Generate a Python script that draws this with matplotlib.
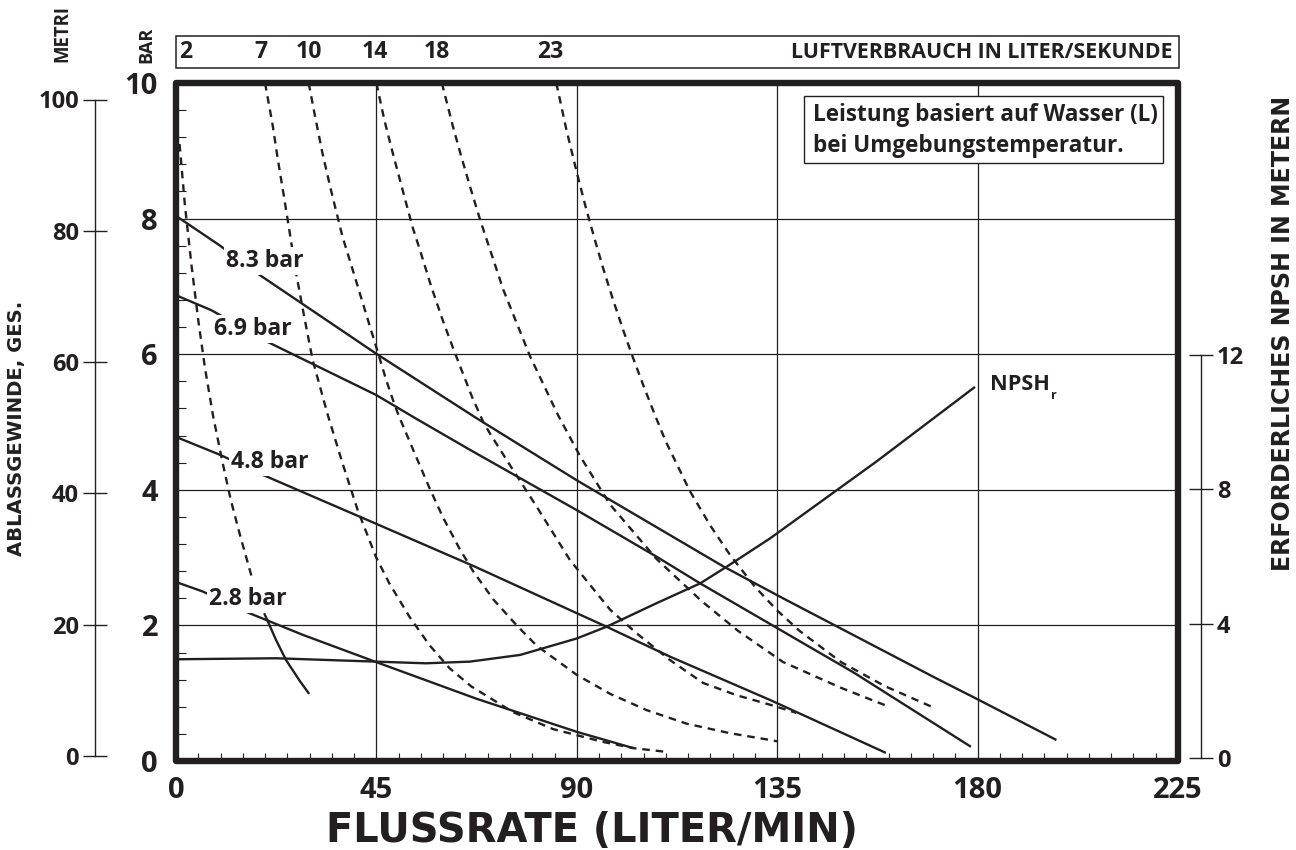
import matplotlib
matplotlib.use("Agg")
import matplotlib.pyplot as plt
from matplotlib.patches import Rectangle
from matplotlib.ticker import MultipleLocator, FixedLocator

# ---------------- data ----------------
flow_ticks = [0, 45, 90, 135, 180, 225]
bar_ticks = [0, 2, 4, 6, 8, 10]
metri_ticks = [0, 20, 40, 60, 80, 100]
npsh_ticks = [0, 4, 8, 12]

# head curves (bar) at given inlet air pressure
p83_x = [0, 9.7, 18.3, 44.9, 67.4, 90, 97.5, 122.9, 136.3, 170.4, 180, 197.7]
p83_y = [8.04, 7.61, 7.19, 6.01, 5.06, 4.14, 3.85, 2.87, 2.40, 1.23, 0.91, 0.31]
p69_x = [0, 7.9, 20.6, 44.9, 53.9, 66, 90, 108, 117.7, 135, 152.3, 178.5]
p69_y = [6.87, 6.65, 6.18, 5.40, 5.05, 4.59, 3.70, 3.01, 2.62, 1.96, 1.30, 0.21]
p48_x = [0, 10.1, 19.5, 44.9, 67, 90, 96.7, 110.9, 133.4, 159.4]
p48_y = [4.78, 4.51, 4.22, 3.50, 2.87, 2.18, 1.98, 1.54, 0.90, 0.12]
p28_x = [0, 6.0, 16.5, 28.5, 44.9, 67.4, 90, 102.7]
p28_y = [2.64, 2.50, 2.18, 1.86, 1.46, 0.92, 0.43, 0.19]
pressure_labels = ["8.3 bar", "6.9 bar", "4.8 bar", "2.8 bar"]

# air consumption curves (l/s)
air_values = ["2", "7", "10", "14", "18", "23"]
a2_x = [0.8, 2.0, 3.5, 5.0, 6.5, 8.3, 10.3, 12.3, 14.5, 17.2]
a2_y = [9.1, 8.2, 7.3, 6.5, 5.8, 5.1, 4.45, 3.85, 3.3, 2.67]
a2s_x = [19.8, 22.5, 24.7, 27.7, 29.9]
a2s_y = [2.18, 1.78, 1.49, 1.19, 0.99]
a7_x = [20.0, 21.7, 22.8, 24.3, 25.4, 26.9, 28.8, 30.7, 34.1, 37.4, 40.8, 44.9,
        47.9, 52.4, 56.9, 61.4, 66.3, 75.7, 84.7, 96.0, 102.7, 109.4]
a7_y = [10.0, 9.38, 8.90, 8.30, 7.85, 7.22, 6.55, 5.91, 5.10, 4.39, 3.70, 3.01,
        2.62, 2.13, 1.71, 1.37, 1.10, 0.72, 0.47, 0.28, 0.19, 0.14]
a10_x = [29.8, 31.1, 32.9, 34.8, 37.4, 39.7, 41.5, 43.4, 44.9, 47.2, 49.0, 50.1,
         53.9, 56.9, 59.9, 63.6, 66.7, 71.3, 76.5, 81.0, 90.0, 97.5, 105.7,
         114.7, 124.4, 133.4, 135.0]
a10_y = [10.0, 9.55, 8.96, 8.42, 7.73, 7.24, 6.85, 6.44, 6.12, 5.62, 5.27, 5.08,
         4.49, 4.03, 3.60, 3.14, 2.80, 2.38, 2.00, 1.70, 1.27, 0.99, 0.75,
         0.55, 0.41, 0.31, 0.29]
a14_x = [45.0, 46.8, 48.7, 51.3, 53.1, 55.0, 57.3, 59.9, 62.1, 64.4, 66.6, 69.0,
         70.5, 75.7, 81.0, 88.5, 97.5, 103.5, 110.9, 118.4, 125.9, 133.4, 139.3]
a14_y = [10.0, 9.45, 8.96, 8.32, 7.88, 7.49, 7.00, 6.50, 6.11, 5.72, 5.35, 5.00,
         4.83, 4.29, 3.75, 2.96, 2.23, 1.88, 1.49, 1.15, 0.97, 0.83, 0.71]
a18_x = [59.7, 62.1, 64.0, 65.9, 68.3, 73.5, 79.5, 85.8, 90.7, 97.5, 107.9,
         118.0, 126.2, 136.3, 149.3, 160.1]
a18_y = [10.0, 9.38, 8.93, 8.50, 7.98, 6.95, 5.97, 5.10, 4.50, 3.78, 2.98,
         2.36, 1.92, 1.46, 1.08, 0.80]
a23_x = [85.4, 87.7, 90.0, 92.0, 94.0, 96.0, 98.2, 100.5, 102.5, 105.0, 107.5,
         110.0, 115.4, 120.0, 124.4, 130.0, 135.0, 140.0, 149.3, 159.3, 170.4]
a23_y = [10.0, 9.30, 8.68, 8.17, 7.70, 7.25, 6.79, 6.34, 5.97, 5.53, 5.11,
         4.71, 3.98, 3.47, 3.04, 2.57, 2.22, 1.92, 1.46, 1.10, 0.78]

# NPSH required (metres)
npsh_x = [0, 22.5, 44.9, 56.1, 66.0, 77.3, 90, 96.7, 107.9, 117.7, 123.7, 133.4, 157.5, 179.4]
npsh_y = [2.94, 2.97, 2.87, 2.82, 2.87, 3.07, 3.56, 3.91, 4.61, 5.20, 5.70, 6.54, 8.85, 11.05]

# ---------------- figure ----------------
plt.rcParams["font.family"] = ["Open Sans", "DejaVu Sans"]
plt.rcParams["font.weight"] = "bold"
W, H = 1296, 850
fig = plt.figure(figsize=(W / 100, H / 100), dpi=100)
renderer = fig.canvas.get_renderer()
INK = "#231f20"
WIDE = ["DejaVu Sans"]


def fx(px):
    return px / W


def fy(py):
    return 1 - py / H


def fit(t, target, rotated=False):
    bb = t.get_window_extent(renderer)
    cur = bb.height if rotated else bb.width
    t.set_fontsize(t.get_fontsize() * target / cur)
    return t


L, R, T, B = 176, 1178, 83, 761
ax = fig.add_axes([fx(L), fy(B), fx(R) - fx(L), fy(T) - fy(B)])
ax.set_xlim(0, 225)
ax.set_ylim(0, 10)
for s in ax.spines.values():
    s.set_visible(False)
ax.xaxis.set_major_locator(FixedLocator(flow_ticks))
ax.yaxis.set_major_locator(FixedLocator(bar_ticks))
ax.xaxis.set_minor_locator(MultipleLocator(5))
ax.yaxis.set_minor_locator(MultipleLocator(0.4))
ax.tick_params(axis="both", which="major", length=0, labelsize=21, colors=INK)
ax.tick_params(axis="x", which="major", pad=11)
ax.tick_params(axis="y", which="major", pad=13)
ax.tick_params(axis="x", which="minor", direction="in", length=6, width=0.8, color=INK)
ax.tick_params(axis="y", which="minor", direction="in", length=7, width=0.8, color=INK)
for lab in ax.get_xticklabels() + ax.get_yticklabels():
    lab.set_fontweight("bold")
ax.grid(True, which="major", color=INK, lw=0.9)
ax.set_axisbelow(True)
ax.add_patch(Rectangle((0, 0), 1, 1, transform=ax.transAxes, fill=False, lw=4.6,
                       ec=INK, joinstyle="round", clip_on=False, zorder=6))

solid = dict(color=INK, lw=1.7, zorder=3, solid_capstyle="butt", solid_joinstyle="round")
dash = dict(color=INK, lw=1.7, zorder=3, dashes=(3.2, 2.5))
for xs, ys in [(p83_x, p83_y), (p69_x, p69_y), (p48_x, p48_y), (p28_x, p28_y), (a2s_x, a2s_y)]:
    ax.plot(xs, ys, **solid)
for xs, ys in [(a2_x, a2_y), (a7_x, a7_y), (a10_x, a10_y), (a14_x, a14_y),
               (a18_x, a18_y), (a23_x, a23_y)]:
    ax.plot(xs, ys, **dash)

axn = ax.twinx()
axn.set_ylim(-(761 - 758) / 33.58, (758 - 83) / 33.58)
axn.axis("off")
axn.plot(npsh_x, npsh_y, **solid)

# pressure labels (white backing hides the curve behind them)
lab_pos = [(226, 261), (214, 329), (231, 462), (209, 599)]
for txt, (px, py) in zip(pressure_labels, lab_pos):
    t = fig.text(fx(px), fy(py), txt, ha="left", va="center", fontsize=17,
                 fontweight="bold", color=INK, zorder=10,
                 bbox=dict(fc="white", ec="none", pad=1.5))
    fit(t, 78)

t = fig.text(fx(990), fy(384), "NPSH", ha="left", va="center", fontsize=15,
             fontweight="bold", color=INK)
fit(t, 60)
fig.text(fx(1051), fy(396), "r", ha="left", va="center", fontsize=9,
         fontweight="bold", color=INK)

# legend box
fig.add_artist(Rectangle((fx(804), fy(163)), fx(1163) - fx(804), fy(96) - fy(163),
                         transform=fig.transFigure, fc="white", ec=INK, lw=1.0, zorder=8))
t1 = fig.text(fx(813), fy(115), "Leistung basiert auf Wasser (L)", ha="left", va="center",
              fontsize=17, fontweight="bold", color=INK, zorder=9)
fit(t1, 346)
fig.text(fx(813), fy(146), "bei Umgebungstemperatur.", ha="left", va="center",
         fontsize=t1.get_fontsize(), fontweight="bold", color=INK, zorder=9)

# top air-consumption strip
fig.add_artist(Rectangle((fx(176), fy(68)), fx(1179) - fx(176), fy(36) - fy(68),
                         transform=fig.transFigure, fill=False, ec=INK, lw=1.1))
tl = fig.text(fx(1173), fy(52), "LUFTVERBRAUCH IN LITER/SEKUNDE", ha="right", va="center",
              fontsize=17, fontweight="bold", color=INK)
fit(tl, 383)
air_px = [186, 261, 309, 375, 437, 550]
for v, px in zip(air_values, air_px):
    fig.text(fx(px), fy(52), v, ha="center", va="center", fontsize=tl.get_fontsize() * 1.08,
             fontweight="bold", color=INK)

tb = fig.text(fx(146), fy(45), "BAR", rotation=90, ha="center", va="center", fontsize=12,
              fontweight="bold", color=INK)
fit(tb, 36, rotated=True)
tm = fig.text(fx(62), fy(34), "METRI", rotation=90, ha="center", va="center", fontsize=12,
              fontweight="bold", color=INK)
fit(tm, 57, rotated=True)

# left metres axis
m0, m100 = 756, 99.5
mpx = (m0 - m100) / 100
axm = fig.add_axes([fx(95), fy(B), fx(2), fy(T) - fy(B)])
axm.set_ylim(-(B - m0) / mpx, (m0 - T) / mpx)
axm.patch.set_visible(False)
for k in ["top", "right", "bottom"]:
    axm.spines[k].set_visible(False)
axm.spines["left"].set_bounds(0, 100)
axm.spines["left"].set_linewidth(1.0)
axm.spines["left"].set_color(INK)
axm.set_xticks([])
axm.yaxis.set_major_locator(FixedLocator(metri_ticks))
axm.tick_params(axis="y", direction="inout", length=17, width=1.0, color=INK,
                labelsize=17, pad=3, labelcolor=INK)
for lab in axm.get_yticklabels():
    lab.set_fontweight("bold")

# right NPSH axis
n0, n12 = 758, 355
npx = (n0 - n12) / 12
axr = fig.add_axes([fx(1199), fy(B), fx(2), fy(T) - fy(B)])
axr.set_ylim(-(B - n0) / npx, (n0 - T) / npx)
axr.patch.set_visible(False)
for k in ["top", "left", "bottom"]:
    axr.spines[k].set_visible(False)
axr.spines["right"].set_bounds(0, 12)
axr.spines["right"].set_linewidth(1.0)
axr.spines["right"].set_color(INK)
axr.set_xticks([])
axr.yaxis.tick_right()
axr.yaxis.set_major_locator(FixedLocator(npsh_ticks))
axr.tick_params(axis="y", direction="inout", length=17, width=1.0, color=INK,
                labelsize=17, pad=3, labelcolor=INK)
for lab in axr.get_yticklabels():
    lab.set_fontweight("bold")

# axis titles (a wide face matches the broad lettering of the original)
tx = fig.text(fx(592), fy(842), "FLUSSRATE (LITER/MIN)", ha="center", va="baseline",
              fontsize=22, fontweight="bold", color=INK, family=WIDE)
fit(tx, 530)
ty = fig.text(fx(17), fy(428), "ABLASSGEWINDE, GES.", rotation=90, ha="center", va="center",
              fontsize=12, fontweight="bold", color=INK, family=WIDE)
fit(ty, 255, rotated=True)
tr = fig.text(fx(1283), fy(333), "ERFORDERLICHES NPSH IN METERN", rotation=90, ha="center",
              va="center", fontsize=12, fontweight="bold", color=INK, family=WIDE)
fit(tr, 475, rotated=True)

fig.savefig("out.png", dpi=100, facecolor="white")
